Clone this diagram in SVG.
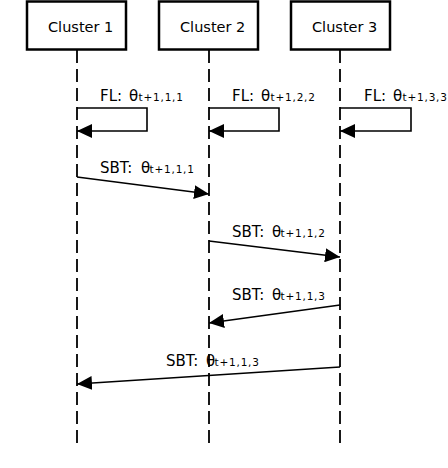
<svg xmlns="http://www.w3.org/2000/svg" width="448" height="468" viewBox="0 0 448 468">
<style>
.box{fill:#fff;stroke:#000;stroke-width:2.5}
.life{stroke:#000;stroke-width:1.8;stroke-dasharray:13 6;fill:none}
.msg{stroke:#000;stroke-width:1.6;fill:none;marker-end:url(#ah)}
text{font-family:"DejaVu Sans",Verdana,sans-serif;fill:#000}
.t{font-size:14.5px}
.lbl{font-size:15px}
.sub{font-size:10.5px;letter-spacing:0.8px}
</style>
<defs>
<marker id="ah" markerUnits="userSpaceOnUse" markerWidth="16" markerHeight="14" refX="15" refY="7" orient="auto" viewBox="0 0 16 14">
<path d="M0,0 L15,7 L0,14 z" fill="#000"/>
</marker>
</defs>
<rect width="448" height="468" fill="#fff"/>
<g id="cluster1">
<rect class="box" x="27" y="1.5" width="99" height="48"/>
<text class="t" x="48" y="32">Cluster 1</text>
</g>
<g id="cluster2">
<rect class="box" x="159" y="1.5" width="99" height="48"/>
<text class="t" x="180" y="32">Cluster 2</text>
</g>
<g id="cluster3">
<rect class="box" x="291" y="1.5" width="99" height="48"/>
<text class="t" x="312" y="32">Cluster 3</text>
</g>
<g id="connectors">
<line class="life" x1="77" y1="50" x2="77" y2="447"/>
<line class="life" x1="209" y1="50" x2="209" y2="447"/>
<line class="life" x1="340" y1="50" x2="340" y2="447"/>
<path class="msg" d="M77,108 H147 V131 H77"/>
<path class="msg" d="M209,108 H279 V131 H209"/>
<path class="msg" d="M340,108 H411 V131 H340"/>
<line class="msg" x1="77" y1="177" x2="209" y2="194"/>
<line class="msg" x1="209" y1="241" x2="340" y2="257"/>
<line class="msg" x1="340" y1="305" x2="209" y2="323"/>
<line class="msg" x1="340" y1="367" x2="77" y2="384"/>
</g>
<g id="labels">
<text class="lbl" y="101"><tspan x="100">FL:</tspan><tspan x="129">θ</tspan><tspan class="sub" x="138.5">t+1,1,1</tspan></text>
<text class="lbl" y="101"><tspan x="232">FL:</tspan><tspan x="261">θ</tspan><tspan class="sub" x="270.5">t+1,2,2</tspan></text>
<text class="lbl" y="101"><tspan x="364">FL:</tspan><tspan x="393">θ</tspan><tspan class="sub" x="402.5">t+1,3,3</tspan></text>
<text class="lbl" y="172.5"><tspan x="100">SBT:</tspan><tspan x="141">θ</tspan><tspan class="sub" x="149.5">t+1,1,1</tspan></text>
<text class="lbl" y="236.5"><tspan x="232">SBT:</tspan><tspan x="272">θ</tspan><tspan class="sub" x="280.5">t+1,1,2</tspan></text>
<text class="lbl" y="300"><tspan x="232">SBT:</tspan><tspan x="272">θ</tspan><tspan class="sub" x="280.5">t+1,1,3</tspan></text>
<text class="lbl" y="366"><tspan x="166">SBT:</tspan><tspan x="206">θ</tspan><tspan class="sub" x="214.5">t+1,1,3</tspan></text>
</g>
</svg>
